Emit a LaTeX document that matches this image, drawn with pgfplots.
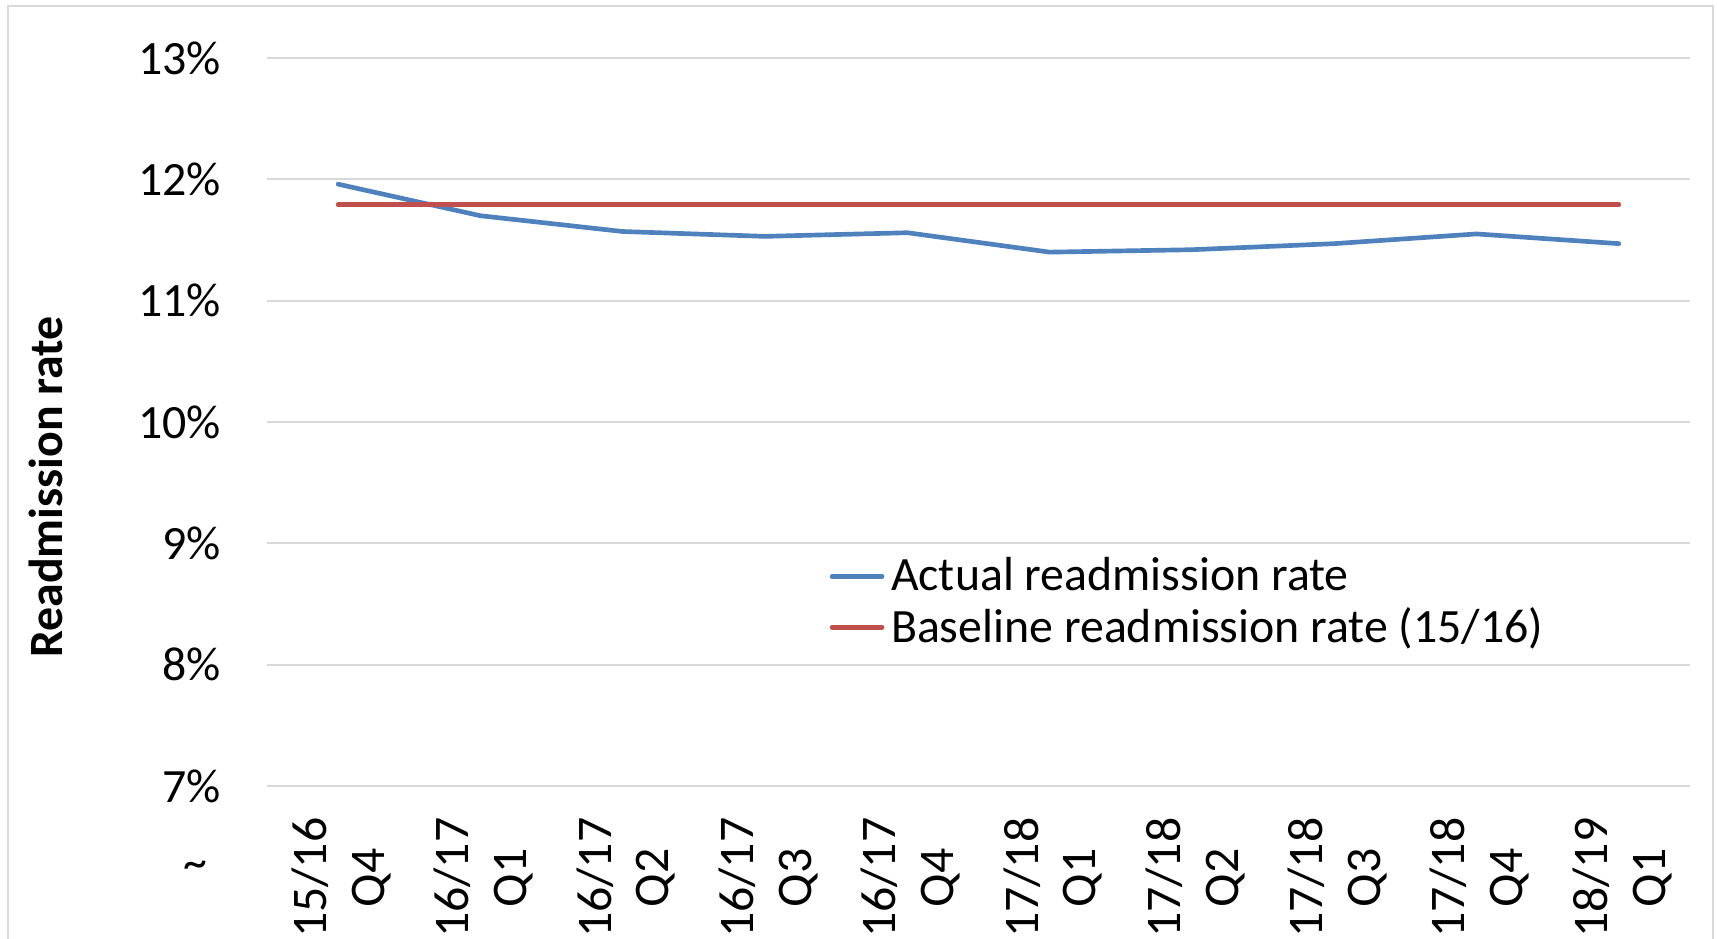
\documentclass[border=0pt]{standalone}
\usepackage{pgfplots}
\pgfplotsset{compat=1.18}
\usepackage{fontspec}
\setmainfont{Carlito}
\definecolor{blueS}{HTML}{4F81BD}
\definecolor{redS}{HTML}{C0504D}
\definecolor{gridC}{HTML}{D9D9D9}
\begin{document}
\begin{tikzpicture}
\useasboundingbox (-80.1bp,-45.9bp) rectangle (435bp,235.8bp);
\draw[gridC, line width=0.6bp] (-77.7bp,-60bp) rectangle (433.8bp,234bp);
\begin{axis}[
  at={(0,0)}, anchor=south west,
  scale only axis,
  width=426.9bp, height=218.4bp,
  xmin=-0.5, xmax=9.5,
  ymin=7, ymax=13,
  ytick={7,8,9,10,11,12,13},
  yticklabel={\pgfmathprintnumber{\tick}\%},
  /pgf/number format/assume math mode=true,
  xtick=data,
  xticklabels={{15/16\\Q4},{16/17\\Q1},{16/17\\Q2},{16/17\\Q3},{16/17\\Q4},{17/18\\Q1},{17/18\\Q2},{17/18\\Q3},{17/18\\Q4},{18/19\\Q1}},
  xticklabel style={yshift=-6bp, xshift=1bp, rotate=90, anchor=east, align=center, font=\fontsize{15}{17.4}\selectfont},
  yticklabel style={font=\fontsize{14.4}{17}\selectfont, xshift=-10.3bp},
  major tick length=0pt,
  axis line style={draw=none},
  ymajorgrids,
  grid style={gridC, line width=0.6bp},
  legend style={at={(0.395,0.324)}, anchor=north west, draw=none, fill=none,
    font=\fontsize{14.4}{16}\selectfont, inner sep=0pt, row sep=-0.5bp,
    legend cell align=left},
  legend image code/.code={\draw[#1, line width=1.4bp, line cap=round] (0bp,0bp) -- (15bp,0bp);},
  clip=false,
]
\addplot[blueS, line width=1.4bp, line cap=round, line join=round] coordinates {
(0,11.96) (1,11.70) (2,11.57) (3,11.53) (4,11.56) (5,11.40) (6,11.42) (7,11.47) (8,11.55) (9,11.47)};
\addlegendentry{Actual readmission rate}
\addplot[redS, line width=1.4bp, line cap=round] coordinates {
(0,11.79) (1,11.79) (2,11.79) (3,11.79) (4,11.79) (5,11.79) (6,11.79) (7,11.79) (8,11.79) (9,11.79)};
\addlegendentry{Baseline readmission rate (15/16)}
\end{axis}
\node[rotate=90, font=\bfseries\fontsize{14.4}{17}\selectfont] at (-66.3bp,89.7bp) {Readmission rate};
\node[font=\fontsize{14.4}{17}\selectfont] at (-21.5bp,-25.1bp) {\textasciitilde};
\end{tikzpicture}
\end{document}
